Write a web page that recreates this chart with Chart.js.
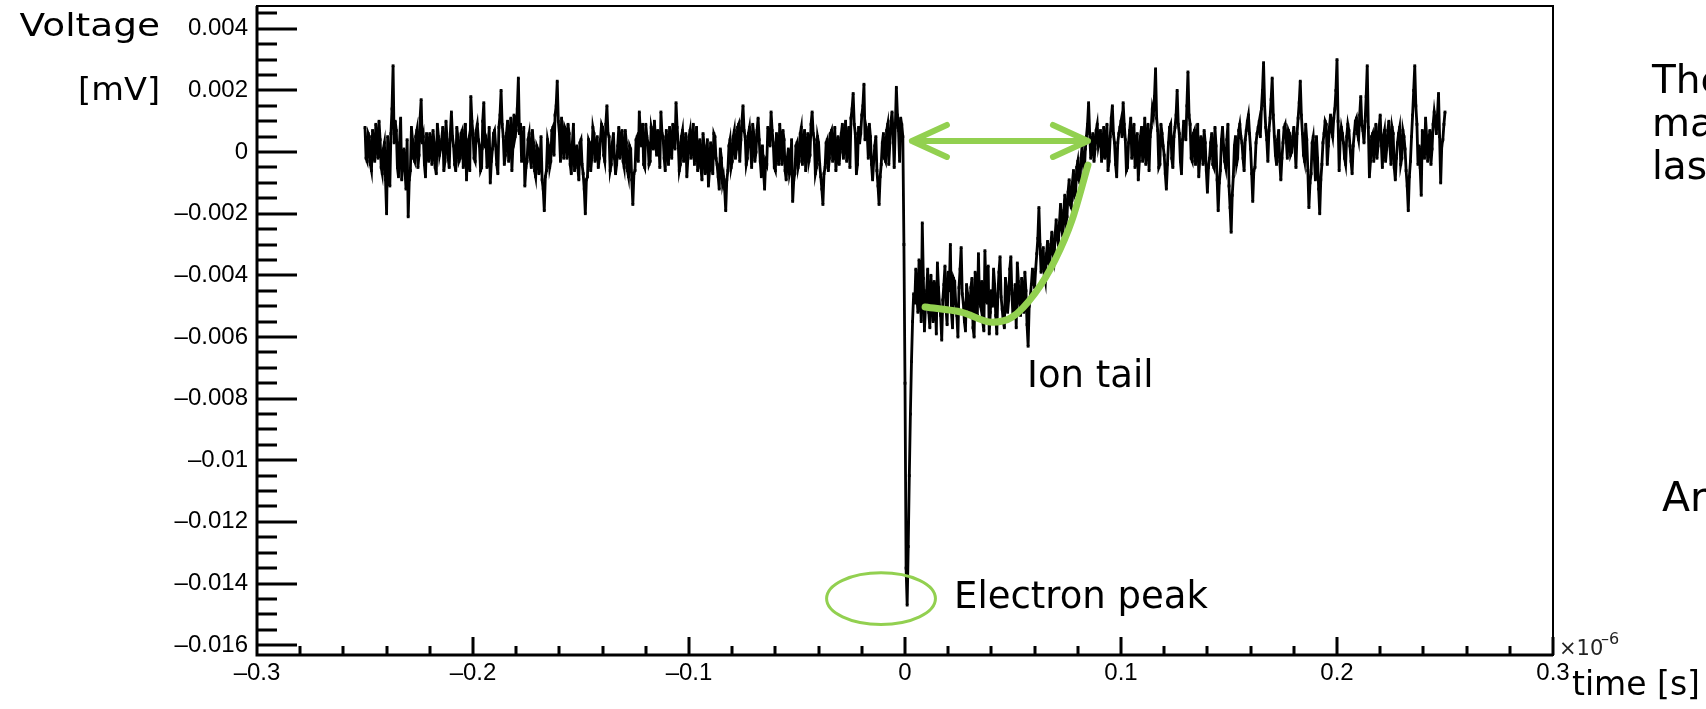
<!DOCTYPE html>
<html lang="en">

<head>
    <meta charset="UTF-8">
    <title>Ion tail</title>
    <script src="https://cdn.jsdelivr.net/npm/chart.js@4.4.1/dist/chart.umd.min.js"></script>
    <style>
        html, body { margin: 0; padding: 0; background: #fff; overflow: hidden; }
        #wrap { position: relative; width: 1706px; height: 709px; overflow: hidden; }
        .txt { position: absolute; font-family: 'DejaVu Sans', sans-serif; color: #000; white-space: nowrap; line-height: 1; }
    </style>
</head>

<body>
    <div id="wrap">
        <canvas id="pulse" width="1706" height="709"></canvas>

        <div class="txt" style="right:1546px; top:9px; font-size:32px; transform:scaleX(1.17); transform-origin:right;">Voltage</div>
        <div class="txt" style="right:1546px; top:73px; font-size:32px; transform:scaleX(1.05); transform-origin:right;">[mV]</div>
        <div class="txt" style="left:1572px; top:667px; font-size:33px;">time [s]</div>
        <div class="txt" style="left:1559px; top:638px; font-size:21px; color:#222;">×10</div>
        <div class="txt" style="left:1601px; top:631px; font-size:16px; color:#222;">–6</div>

        <div class="txt" style="left:1027px; top:356px; font-size:37px;">Ion tail</div>
        <div class="txt" style="left:954px; top:577px; font-size:37px;">Electron peak</div>

        <div class="txt" style="left:1652px; top:60px; font-size:39px;">The</div>
        <div class="txt" style="left:1652px; top:103px; font-size:39px;">ma</div>
        <div class="txt" style="left:1652px; top:146px; font-size:39px;">las</div>
        <div class="txt" style="left:1662px; top:477px; font-size:41px;">Ar</div>
    </div>

    <script>
        // time axis in units of 1e-6 s, one sample every 0.001 plus one halfway between
        const timeStart = -0.25;
        const timeStep = 0.001;

        // sampled voltage, in units of 1e-4 (axis units), on the whole steps
        const voltageUnit = 1e-4;
        const voltage = [
            8, -3, 5, -6, 2, 9, -2, 4, -7, 3,
            -20, -4, 6, 28, 10, -5, 3, -9, 1, -12,
            -21, -6, 4, -3, 7, -1, 17, 5, -8, 2,
            6, -4, 3, -7, 5, 1, 8, -3, 4, -5,
            13, 2, -6, 5, -2, 7, 0, -9, 4, 18,
            6, -3, 9, 2, -5, 16, 4, -2, -10, 1,
            7, -4, 8, 20, 5, -1, 10, 3, -6, 12,
            7, 24, 9, 2, -11, -3, 6, -5, 3, -8,
            1, -4, -9, -19, -6, 2, -3, 8, 12, 23,
            6, 11, -2, 7, 9, -4, 3, -6, 2, -9,
            4, -7, -20, -8, 3, -2, 6, 1, -5, 4,
            8, -3, 15, 5, -4, 6, -7, 2, -2, 7,
            -5, 3, -8, 1, -17, -6, 5, 13, 2, -4,
            9, 3, -3, 6, 10, -1, 4, 13, 5, -6,
            2, 8, -2, 6, 16, 3, -4, 7, 0, -8,
            5, -2, 9, 1, -6, 4, -9, 2, -3, -11,
            3, -7, 5, -4, -12, -2, -8, -19, -6, 4,
            -3, 7, 1, 9, 4, 15, 5, -2, 8, -5,
            6, 0, 11, -3, 2, -12, -4, 5, 13, 3,
            -6, 2, 9, -4, 4, -9, 1, -5, -16, -7,
            3, -3, 8, 2, -6, 6, -1, 13, 4, -5,
            3, -8, -17, -5, 4, -2, 7, 2, -6, 5,
            0, 9, 4, -3, 8, 11, 19, 6, -4, 3,
            12, 22, 8, -2, 5, -9, 2, -6, -17, -4,
            6, -3, 9, 3, 13, -5, 21, 7, 11, 5,
            // electron peak, then ion tail
            -75, -147, -105, -68, -46, -38, -52, -44, -23, -58,
            -45, -52, -40, -55, -47, -36, -50, -61, -43, -51,
            -39, -30, -57, -42, -53, -44, -31, -49, -58, -46,
            -52, -41, -60, -47, -33, -50, -55, -32, -49, -59,
            -45, -38, -53, -46, -34, -51, -57, -44, -48, -34,
            -54, -43, -36, -49, -41, -52, -45, -63, -47, -38,
            -44, -33, -18, -39, -31, -42, -29, -37, -26, -35,
            -22, -30, -17, -27, -14, -21, -9, -18, -6, -13,
            -3, -10, 2, -7, 5, 16, -2, 6, 1, 9,
            // back on baseline
            4, -3, 8, 2, -6, 5, 15, 3, -8, 6,
            10, 16, 4, -5, 7, -2, 9, 1, -9, 5,
            -3, 11, 3, -6, 8, 12, 27, 7, -4, 6,
            -1, -12, 3, 9, -5, 8, 20, 6, -7, 10,
            4, 26, 9, -3, 7, 2, -8, 5, -4, 3,
            -13, -2, 6, -5, 2, -19, -6, 8, -3, 4,
            -11, -26, -8, 5, -2, 9, 3, -6, 7, 12,
            1, -16, -5, 6, 10, 14, 29, 8, -3, 11,
            24, 5, -4, 7, -9, 3, 9, -2, 6, 0,
            8, -5, 11, 23, 6, -3, 4, -18, -7, 5,
            -9, -2, -20, -4, 6, 9, 2, 12, 5, 14,
            30, -6, 8, 3, -4, 9, 2, -7, 6, 11,
            4, 18, 7, 10, 28, -8, 5, -3, 9, 2,
            12, -5, 7, 1, 10, -4, 6, -9, 3, 8,
            -2, 5, -6, -19, -3, 12, 28, 9, 2, -14,
            4, 11, -3, 7, 1, 13, 6, 19, -10, 4,
            13
        ];

        // the samples halfway between, same units
        const voltageHalf = [
            -2, 6, -4, 7, -3, 4, 10, -5, 1, -9,
            5, -11, 14, 3, 7, -8, 11, -2, -6, 4,
            -9, 8, -2, 5, -5, 11, 3, -4, 6, -3,
            2, 7, -5, 9, -1, 4, -6, 10, -2, 6,
            5, -4, 8, -3, 6, -5, 9, 2, -6, 10,
            -2, 7, 4, -6, 10, 3, -5, 8, -3, 6,
            2, -7, 12, 9, -4, 6, -3, 11, 2, 5,
            14, 6, -3, 8, -5, 4, -2, 7, -6, 2,
            -7, 5, -12, -8, 4, -5, 7, -1, 15, 10,
            -3, 5, 8, -2, 6, -7, 9, -1, -5, 3,
            -4, -12, -9, 4, -6, 8, -3, 5, -2, 9,
            -1, 9, 6, -6, 3, -2, -4, 8, 4, -3,
            7, -6, 2, -9, -7, 4, -3, 6, 9, -5,
            5, -4, 8, 1, 4, 7, -5, 6, -2, 7,
            -4, 3, 9, 1, 8, -6, 5, -3, 6, -2,
            7, 3, -4, 8, -2, -5, 6, -7, 4, -6,
            -4, 6, -2, -8, 1, -10, -12, -9, 2, -5,
            5, -2, 8, -3, 10, 7, -4, 6, 2, 9,
            -3, 7, 4, -8, -6, -3, 8, 2, 7, -5,
            6, -4, 3, 7, -6, -2, -7, 4, -9, 2,
            -5, 6, -4, 7, 1, -3, 9, 6, -7, 5,
            -4, -12, -7, 3, -6, 6, -3, 8, -1, -4,
            6, -2, 10, 3, -5, 14, 9, -7, 8, 6,
            15, 4, 6, 9, -4, -3, 5, -11, -8, 3,
            -2, 7, -4, 10, 6, 8, 12, -3, 9, -30,
            -135, -128, -85, -55, -49, -47, -35, -55, -41, -50,
            -38, -57, -46, -42, -59, -44, -53, -48, -37, -56,
            -45, -52, -41, -49, -60, -38, -46, -55, -43, -51,
            -44, -57, -39, -53, -48, -42, -58, -45, -37, -52,
            -50, -43, -59, -39, -47, -55, -41, -52, -38, -46,
            -49, -57, -42, -53, -46, -39, -56, -50, -43, -41,
            -38, -28, -30, -35, -40, -33, -36, -30, -33, -27,
            -28, -23, -25, -19, -23, -13, -17, -10, -14, -5,
            -9, -2, -4, 1, 9, 6, 3, -3, 7, 2,
            7, 1, -2, 9, -3, 11, 6, -4, 3, 8,
            5, 9, -6, 3, 11, 4, -5, 6, -3, 8,
            2, -4, 9, 5, 14, 18, 11, -5, 9, 2,
            -7, -4, 8, -2, 5, 12, 9, -3, 4, 7,
            15, 12, -2, 6, -4, 9, -2, 1, 7, -6,
            -5, 3, -4, 8, -9, -10, 4, 2, -5, 9,
            -18, -14, 2, -4, 7, 5, -2, 4, 10, 6,
            -7, -6, 3, 8, 5, 20, 15, 4, 7, 17,
            12, -1, 4, -3, -2, 8, 4, 7, -1, 5,
            2, 6, 16, 12, -1, 9, -6, -10, 3, -2,
            5, -12, -9, 3, 10, -4, 8, 7, 11, 20,
            10, 4, 6, -2, 5, 7, -3, 2, 10, 6,
            12, 9, 3, 18, 8, -3, 6, 4, -2, 8,
            3, 5, -3, 7, 2, 8, -5, -2, 6, -4,
            7, 1, -11, -8, 5, 20, 15, -4, -5, 7,
            -2, 5, 4, -4, 9, 10, 12, 5, 2, 9
        ];

        const xTicks = [-0.3, -0.2, -0.1, 0, 0.1, 0.2, 0.3];
        const xTickLabels = ['–0.3', '–0.2', '–0.1', '0', '0.1', '0.2', '0.3'];
        const yTicks = [-0.016, -0.014, -0.012, -0.01, -0.008, -0.006, -0.004, -0.002, 0, 0.002, 0.004];
        const yTickLabels = ['–0.016', '–0.014', '–0.012', '–0.01', '–0.008', '–0.006', '–0.004', '–0.002', '0', '0.002', '0.004'];

        // green hand-drawn marks, in data coordinates
        const tailCurve = [
            [0.0093, -0.00503], [0.0264, -0.0052], [0.0403, -0.00552], [0.0495, -0.00536],
            [0.0602, -0.00458], [0.0694, -0.00351], [0.0773, -0.00221], [0.0847, -0.00042]
        ];
        const driftArrow = [[0.0032, 0.00036], [0.0847, 0.00036]];
        const peakRing = [-0.0111, -0.01449, 0.0252, 0.00084]; // centre x, centre y, half width, half height

        const green = '#92d050';

        const trace = [];
        voltage.forEach((v, i) => {
            trace.push({ x: timeStart + i * timeStep, y: v * voltageUnit });
            if (i < voltageHalf.length) {
                trace.push({ x: timeStart + (i + 0.5) * timeStep, y: voltageHalf[i] * voltageUnit });
            }
        });

        const frameTicks = {
            id: 'frameTicks',
            afterDraw(chart) {
                const { ctx, chartArea: a, scales: { x, y } } = chart;
                ctx.save();
                ctx.strokeStyle = '#000';
                ctx.lineWidth = 2;
                ctx.strokeRect(a.left, a.top, a.right - a.left, a.bottom - a.top);
                ctx.lineWidth = 3;
                ctx.beginPath();
                ctx.moveTo(a.left, a.top);
                ctx.lineTo(a.left, a.bottom);
                ctx.lineTo(a.right, a.bottom);
                // y ticks every 0.0005, long every 0.002
                for (let k = Math.ceil(y.min / 0.0005 - 1e-6); k * 0.0005 <= y.max + 1e-9; k++) {
                    const py = Math.round(y.getPixelForValue(k * 0.0005));
                    const len = k % 4 === 0 ? 40 : 20;
                    ctx.moveTo(a.left, py);
                    ctx.lineTo(a.left + len, py);
                }
                // x ticks every 0.02, long every 0.1
                for (let k = -15; k <= 15; k++) {
                    const px = Math.round(x.getPixelForValue(k * 0.02));
                    const len = k % 5 === 0 ? 18 : 9;
                    ctx.moveTo(px, a.bottom);
                    ctx.lineTo(px, a.bottom - len);
                }
                ctx.stroke();
                ctx.restore();
            }
        };

        const marks = {
            id: 'marks',
            afterDatasetsDraw(chart) {
                const { ctx, scales: { x, y } } = chart;
                ctx.save();
                ctx.strokeStyle = green;
                ctx.lineCap = 'round';
                ctx.lineJoin = 'round';

                // double arrow
                const x1 = x.getPixelForValue(driftArrow[0][0]);
                const x2 = x.getPixelForValue(driftArrow[1][0]);
                const ya = y.getPixelForValue(driftArrow[0][1]);
                ctx.lineWidth = 6;
                ctx.beginPath();
                ctx.moveTo(x1, ya); ctx.lineTo(x2, ya);
                ctx.moveTo(x1 + 35, ya - 16); ctx.lineTo(x1, ya); ctx.lineTo(x1 + 35, ya + 16);
                ctx.moveTo(x2 - 35, ya - 16); ctx.lineTo(x2, ya); ctx.lineTo(x2 - 35, ya + 16);
                ctx.stroke();

                // ring round the electron peak
                const cx = x.getPixelForValue(peakRing[0]);
                const cy = y.getPixelForValue(peakRing[1]);
                const rx = Math.abs(x.getPixelForValue(peakRing[0] + peakRing[2]) - cx);
                const ry = Math.abs(y.getPixelForValue(peakRing[1] + peakRing[3]) - cy);
                ctx.lineWidth = 3;
                ctx.beginPath();
                ctx.ellipse(cx, cy, rx, ry, 0, 0, Math.PI * 2);
                ctx.stroke();
                ctx.restore();
            }
        };

        Chart.defaults.font.family = "'Liberation Sans', Arial, sans-serif";

        new Chart(document.getElementById('pulse'), {
            type: 'line',
            data: {
                datasets: [
                    {
                        label: 'tail',
                        data: tailCurve.map(p => ({ x: p[0], y: p[1] })),
                        borderColor: green,
                        borderWidth: 7,
                        borderCapStyle: 'round',
                        cubicInterpolationMode: 'monotone',
                        pointRadius: 0,
                        fill: false
                    },
                    {
                        label: 'signal',
                        data: trace,
                        borderColor: '#000',
                        borderWidth: 2.8,
                        pointStyle: 'rect',
                        pointRadius: 2,
                        pointBorderWidth: 0,
                        pointBackgroundColor: '#000',
                        fill: false
                    }
                ]
            },
            options: {
                responsive: false,
                animation: false,
                devicePixelRatio: 1,
                layout: { padding: { top: 6, right: 153, bottom: 0, left: 0 } },
                plugins: { legend: { display: false }, tooltip: { enabled: false } },
                scales: {
                    x: {
                        type: 'linear',
                        min: -0.3,
                        max: 0.3,
                        afterBuildTicks: s => { s.ticks = xTicks.map(v => ({ value: v })); },
                        afterFit: s => { s.height = 54; s.paddingLeft = 0; s.paddingRight = 0; },
                        grid: { display: false, drawTicks: false },
                        border: { display: false },
                        ticks: {
                            autoSkip: false,
                            maxRotation: 0,
                            padding: 4,
                            color: '#000',
                            font: { size: 24 },
                            callback: (v, i) => xTickLabels[i]
                        }
                    },
                    y: {
                        type: 'linear',
                        min: -0.01632,
                        max: 0.00474,
                        afterBuildTicks: s => { s.ticks = yTicks.map(v => ({ value: v })); },
                        afterFit: s => { s.width = 257; s.paddingTop = 0; s.paddingBottom = 0; },
                        grid: { display: false, drawTicks: false },
                        border: { display: false },
                        ticks: {
                            autoSkip: false,
                            padding: 9,
                            color: '#000',
                            font: { size: 24 },
                            callback: (v, i) => yTickLabels[i]
                        }
                    }
                }
            },
            plugins: [frameTicks, marks]
        });
    </script>
</body>

</html>
